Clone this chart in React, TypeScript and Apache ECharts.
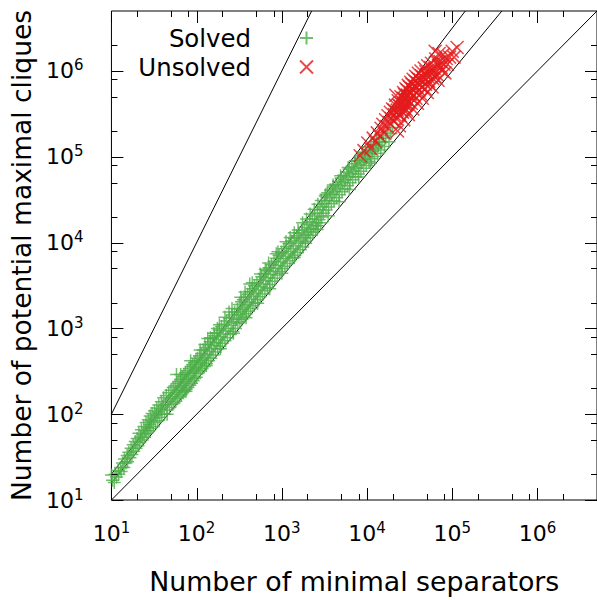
import React, { useEffect, useRef } from "react";
import * as echarts from "echarts";

// Axis range (both axes are logarithmic, same span)
const AXIS_MIN = 10;
const AXIS_MAX = 5e6;

const majorTicks = [10, 100, 1e3, 1e4, 1e5, 1e6];
const minorTicks = [20, 50, 80, 200, 500, 800, 2e3, 5e3, 8e3, 2e4, 5e4, 8e4, 2e5, 5e5, 8e5, 2e6];

// Reference curves y = x^k
const guideExponents = [1, 1.2, 1.3, 2];

// [minimal separators, potential maximal cliques]
const solved: [number, number][] = [
  [10, 19.5], [10.3, 17], [10.8, 16], [11, 20], [11.5, 18.5], [12, 22], [12.2, 20], [12.8, 24], [13, 21.5], [13.5, 27],
  [14, 24], [14.2, 30], [14.8, 27], [15.3, 33], [15.5, 28], [16, 36], [16.5, 31], [17, 40], [17.4, 34], [18, 44],
  [18.3, 37], [19, 48], [19.4, 40], [20, 52], [20.5, 43],
  [21, 60], [21.5, 47], [22, 54], [22.5, 66], [23, 50], [23.5, 58], [24, 72], [24.5, 54], [25, 64], [25.5, 80],
  [26, 60], [26.5, 70], [27, 86], [27.5, 64], [28, 76], [28.5, 95], [29, 68], [29.5, 84], [30, 102], [31, 72],
  [31.5, 90], [32, 110], [33, 80], [33.5, 98], [34, 118], [35, 84], [35.5, 106], [36, 128], [37, 92], [38, 115],
  [38.5, 140], [39, 100], [40, 125], [41, 155], [42, 100], [43, 130], [44, 165], [45, 112], [45, 100], [46, 142], [47, 178],
  [48, 120], [49, 150], [50, 190], [58, 290],
  [51, 130], [52, 160], [53, 205], [54, 135], [55, 170], [56, 215], [57, 142], [58, 180], [59, 228], [60, 152],
  [61, 190], [62, 240], [63, 160], [64, 205], [65, 255], [65, 290], [66, 170], [67, 215], [68, 275], [69, 180], [70, 228],
  [71, 290], [72, 188], [73, 240], [74, 305], [75, 195], [75, 185], [76, 255], [78, 320], [79, 205], [80, 265], [82, 340],
  [83, 218], [84, 280], [85, 420], [86, 360], [87, 230], [88, 300], [90, 380], [91, 245], [92, 315], [94, 400], [95, 260],
  [96, 330], [98, 420], [99, 270],
  [100, 350], [102, 450], [104, 300], [106, 380], [108, 480], [110, 320], [110, 560], [112, 400], [114, 510], [116, 340],
  [118, 430], [120, 560], [123, 360], [125, 460], [125, 650], [128, 600], [130, 390], [130, 370], [133, 500], [135, 760], [136, 650], [138, 420],
  [141, 540], [144, 700], [145, 780], [147, 450], [150, 580], [153, 760], [156, 490], [160, 630], [160, 880], [163, 820], [166, 530],
  [170, 680], [173, 890], [175, 1000], [177, 580], [180, 740], [184, 960], [185, 1100], [188, 620], [190, 580], [192, 800], [196, 1050], [200, 670],
  [205, 860], [210, 1120], [215, 720], [215, 1350], [220, 930], [225, 1220], [230, 780], [236, 1000], [240, 1550], [242, 1320], [248, 850],
  [254, 1090], [260, 1430], [260, 1700], [266, 920], [270, 880], [272, 1180], [279, 1550], [286, 1000], [293, 1280], [300, 1680],
  [305, 1150], [310, 1450], [316, 1900], [322, 1200], [328, 1550], [330, 2300], [335, 2050], [340, 1280], [347, 1650], [354, 2150], [360, 1380],
  [368, 1780], [370, 2650], [375, 2300], [380, 1330], [382, 1480], [390, 1900], [398, 2500], [405, 1580], [414, 2050], [420, 3300], [422, 2700],
  [430, 1700], [440, 2200], [450, 2900], [450, 3400], [458, 1840], [468, 2380], [478, 3150], [488, 1990], [498, 2580], [510, 3400], [520, 2150], [520, 1960],
  [532, 2800], [545, 3700], [556, 2330], [560, 4300], [568, 3050], [580, 4000], [592, 2520], [605, 3300], [620, 4350], [633, 2740], [640, 4900],
  [648, 3600], [662, 4700], [676, 2980], [692, 3900], [700, 5800], [708, 5100], [720, 2900], [724, 3250], [740, 4250], [757, 5550], [774, 3550], [792, 4600],
  [810, 6050], [828, 3850], [847, 5000], [860, 7400], [866, 6550], [886, 4200], [900, 7800], [906, 5450], [927, 7100], [948, 4600], [970, 5950],
  [992, 7700], [1000, 4400],
  [1015, 5000], [1038, 6500], [1060, 8500], [1085, 5300], [1110, 6900], [1120, 10200], [1135, 9000], [1160, 5700], [1188, 7400], [1215, 9700], [1243, 6150],
  [1250, 11500], [1272, 7950], [1300, 10400], [1330, 6600], [1362, 8550], [1394, 11200], [1400, 13000], [1400, 6700], [1426, 7100], [1460, 9200], [1494, 12000], [1530, 7650],
  [1550, 14000], [1565, 9900], [1602, 12900], [1640, 8250], [1678, 10700], [1718, 13900], [1750, 17000], [1758, 8900], [1800, 11500], [1842, 15000], [1886, 10300],
  [1900, 9800], [1930, 12400], [1950, 18800], [1975, 16200], [2022, 11300], [2070, 13400], [2118, 17500], [2150, 21500], [2168, 12200], [2220, 14500], [2272, 18900], [2325, 13200],
  [2380, 15700], [2400, 24500], [2436, 20400], [2494, 14300], [2552, 17000], [2600, 14200], [2612, 22100], [2650, 28000], [2674, 15700], [2737, 18400], [2802, 23900], [2868, 17000],
  [2900, 31000], [2935, 19900], [3004, 25900],
  [3075, 22000], [3150, 28500], [3225, 35000], [3300, 24000], [3300, 36500], [3380, 31000], [3460, 38000], [3500, 20500], [3545, 26000], [3630, 33500], [3720, 41000], [3810, 28300],
  [3900, 36500], [4000, 44500], [4000, 47000], [4100, 30800], [4200, 39500], [4300, 48000], [4400, 33400], [4510, 42800], [4620, 52000], [4700, 30000], [4730, 36200], [4850, 46300],
  [4900, 60000], [4970, 56500], [5090, 39200], [5210, 50000], [5340, 61000], [5470, 42500], [5600, 54000], [5740, 66000], [5880, 46000], [6000, 75000], [6020, 58500], [6170, 71500],
  [6200, 41500], [6320, 49800], [6480, 63500], [6640, 77000], [6800, 54000], [6970, 68500], [7140, 83000], [7300, 90000], [7320, 58500], [7500, 74000], [7680, 90000], [7870, 63000],
  [8000, 58000], [8070, 80000], [8270, 97000], [8470, 68000], [8680, 86000], [8800, 112000], [8900, 104000], [9120, 73500], [9340, 93000], [9570, 112000], [9810, 79000], [10050, 100000],
  [10300, 120000], [10550, 88000], [10800, 108000], [11000, 84000], [11100, 130000], [11350, 95000], [11650, 116000], [11950, 140000], [12250, 101000], [12600, 125000], [12950, 150000],
  [13300, 110000], [13700, 136000], [14100, 162000], [14500, 120000], [15000, 148000], [15500, 176000], [16000, 132000], [16600, 165000], [17300, 195000], [18100, 150000],
  [19000, 185000], [20000, 220000],
];

const unsolved: [number, number][] = [
  [8300, 103000], [9200, 118000], [10200, 145000], [11000, 125000], [11800, 165000], [12500, 150000], [13200, 190000], [14000, 175000], [14600, 215000], [15300, 240000],
  [15800, 190000], [16500, 270000], [17000, 225000], [17600, 300000], [18200, 250000], [18800, 330000], [19300, 280000], [19900, 360000],
  [20500, 260000], [20800, 350000], [21000, 310000], [21500, 400000], [21800, 520000], [22000, 280000], [22300, 330000], [22600, 350000], [22800, 200000], [23200, 450000], [23500, 400000], [23800, 310000],
  [24000, 230000], [24400, 390000], [24700, 300000], [25000, 500000], [25300, 420000], [25600, 340000], [26000, 330000], [26200, 430000], [26500, 480000], [26800, 560000], [27000, 270000], [27400, 370000], [27700, 530000],
  [28000, 470000], [28300, 400000], [28600, 620000], [29000, 350000], [29200, 410000], [29500, 600000], [29800, 520000], [30200, 460000], [30500, 680000], [30500, 310000], [31200, 440000], [31500, 650000],
  [31900, 570000], [32300, 540000], [32600, 740000], [33000, 420000], [33300, 480000], [33700, 700000], [34000, 620000], [34500, 360000], [34800, 800000], [35200, 600000], [35600, 520000], [36400, 670000],
  [36800, 760000], [37200, 870000], [37500, 480000], [38000, 560000], [38500, 650000], [39000, 730000], [39000, 420000], [39500, 820000], [40000, 940000], [41000, 600000], [41500, 700000], [42000, 790000],
  [42500, 540000], [43000, 1000000], [43500, 880000], [44000, 650000], [44500, 480000], [45500, 850000], [46000, 760000], [47000, 1080000], [48000, 620000], [48500, 700000], [49000, 980000], [50000, 900000], [51000, 560000], [51500, 1150000],
  [52000, 850000], [53000, 760000], [54000, 700000], [55000, 980000], [56000, 1100000], [57000, 1230000], [58000, 650000], [59000, 820000], [60000, 950000], [61500, 1060000], [62500, 860000], [63000, 1700000], [64000, 1380000],
  [66500, 900000], [67500, 1250000], [68000, 780000], [69000, 1150000], [70000, 1600000], [72000, 1290000], [74000, 1100000], [76000, 1000000], [78000, 1550000], [80000, 1200000], [82000, 950000], [85000, 1400000], [88000, 1200000], [93000, 1450000],
  [100000, 1700000], [105000, 1450000], [114000, 1880000],
];

const FONT = "DejaVu Sans";
const GREEN = "#4daf4a";
const RED = "#e41a1c";
const PLUS = "path://M0,5L10,5M5,0L5,10";
const CROSS = "path://M0,0L10,10M0,10L10,0";

const supLabel = (v: number) => "10{s|" + Math.round(Math.log10(v)) + "}";

function tickSeries(axis: "x" | "y", values: number[], len: number) {
  return {
    type: "custom",
    silent: true,
    z: 5,
    clip: false,
    data: values.map((v) => (axis === "x" ? [v, AXIS_MIN] : [AXIS_MIN, v])),
    renderItem: (params: any, api: any) => {
      const cs = params.coordSys;
      const p = api.coord([api.value(0), api.value(1)]);
      const style = { stroke: "#000", lineWidth: 1 };
      if (axis === "x") {
        const x = Math.round(p[0]) + 0.5;
        const b = cs.y + cs.height;
        return {
          type: "group",
          children: [
            { type: "line", shape: { x1: x, y1: b, x2: x, y2: b - len }, style },
            { type: "line", shape: { x1: x, y1: cs.y, x2: x, y2: cs.y + len }, style },
          ],
        };
      }
      const y = Math.round(p[1]) + 0.5;
      const r = cs.x + cs.width;
      return {
        type: "group",
        children: [
          { type: "line", shape: { x1: cs.x, y1: y, x2: cs.x + len, y2: y }, style },
          { type: "line", shape: { x1: r, y1: y, x2: r - len, y2: y }, style },
        ],
      };
    },
  };
}

function guideSeries(k: number) {
  const xEnd = Math.min(AXIS_MAX, Math.pow(AXIS_MAX, 1 / k));
  return {
    type: "line",
    silent: true,
    symbol: "none",
    clip: true,
    z: 1,
    lineStyle: { color: "#000", width: 1 },
    data: [
      [AXIS_MIN, Math.pow(AXIS_MIN, k)],
      [xEnd, Math.pow(xEnd, k)],
    ],
  };
}

const axisLabelStyle = {
  fontFamily: FONT,
  fontSize: 22,
  color: "#000",
  lineHeight: 26,
  rich: { s: { fontFamily: FONT, fontSize: 15, color: "#000", verticalAlign: "top", lineHeight: 26 } },
};

function legendFor(name: string, top: number) {
  return {
    data: [name],
    right: 283,
    top,
    padding: 0,
    orient: "vertical",
    align: "right",
    itemWidth: 13,
    itemHeight: 13,
    selectedMode: false,
    textStyle: { fontFamily: FONT, fontSize: 24.4, color: "#000", padding: [0, 44, 0, 0] },
  };
}

export default function App() {
  const ref = useRef<HTMLDivElement>(null);
  useEffect(() => {
    if (!ref.current) return;
    const chart = echarts.init(ref.current, null, { renderer: "svg" });
    chart.setOption({
      animation: false,
      backgroundColor: "#fff",
      grid: {
        left: 110,
        top: 11,
        width: 493.5,
        height: 494,
        show: true,
        borderColor: "#000",
        borderWidth: 1,
        backgroundColor: "transparent",
      },
      legend: [legendFor("Solved", 26), legendFor("Unsolved", 55)],
      xAxis: {
        type: "log",
        logBase: 10,
        min: AXIS_MIN,
        max: AXIS_MAX,
        axisLine: { show: false },
        axisTick: { show: false },
        splitLine: { show: false },
        axisLabel: { ...axisLabelStyle, margin: 20, showMaxLabel: false, formatter: supLabel },
        name: "Number of minimal separators",
        nameLocation: "middle",
        nameGap: 68,
        nameTextStyle: { fontFamily: FONT, fontSize: 26.8, color: "#000" },
      },
      yAxis: {
        type: "log",
        logBase: 10,
        min: AXIS_MIN,
        max: AXIS_MAX,
        axisLine: { show: false },
        axisTick: { show: false },
        splitLine: { show: false },
        axisLabel: { ...axisLabelStyle, margin: 28, showMaxLabel: false, formatter: supLabel },
        name: "Number of potential maximal cliques",
        nameLocation: "middle",
        nameGap: 74,
        nameTextStyle: { fontFamily: FONT, fontSize: 26.5, color: "#000" },
      },
      series: [
        ...guideExponents.map(guideSeries),
        {
          name: "Solved",
          type: "scatter",
          symbol: PLUS,
          symbolSize: 13,
          z: 2,
          itemStyle: { color: "transparent", borderColor: GREEN, borderWidth: 1.5 },
          data: solved,
        },
        {
          name: "Unsolved",
          type: "scatter",
          symbol: CROSS,
          symbolSize: 13,
          z: 3,
          itemStyle: { color: "transparent", borderColor: RED, borderWidth: 1.5 },
          data: unsolved,
        },
        tickSeries("x", majorTicks, 12),
        tickSeries("x", minorTicks, 6),
        tickSeries("y", majorTicks, 12),
        tickSeries("y", minorTicks, 6),
      ],
    });
    return () => chart.dispose();
  }, []);
  return (
    <div
      ref={ref}
      style={{ position: "fixed", left: 0, top: 0, width: 597, height: 600, background: "#fff" }}
    />
  );
}
